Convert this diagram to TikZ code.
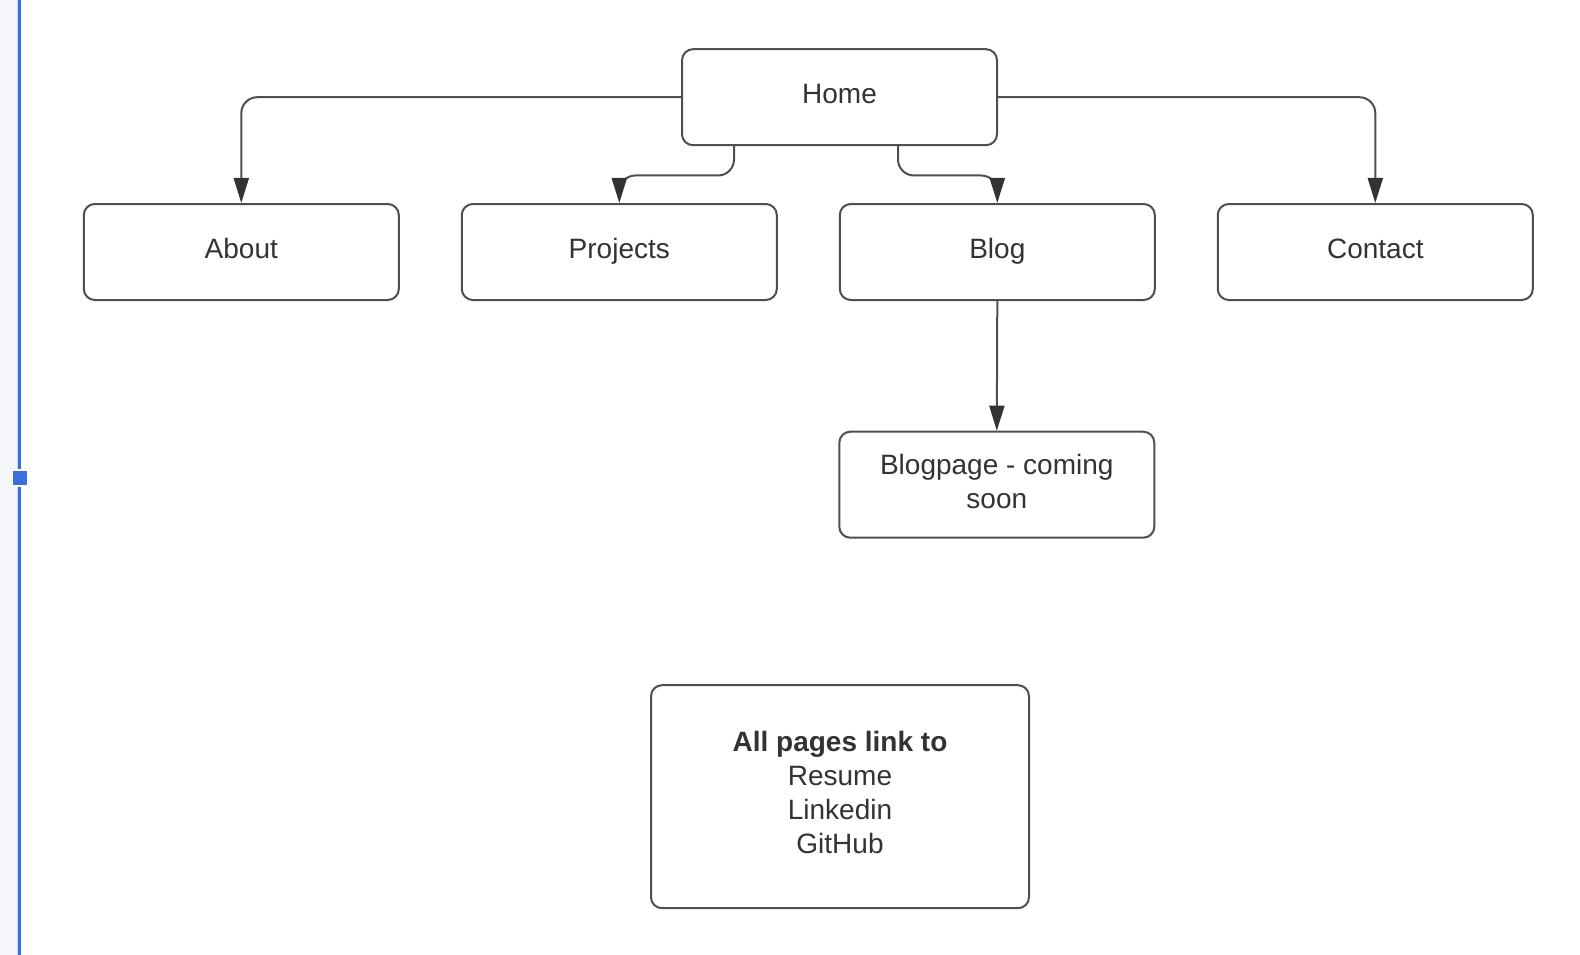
\documentclass[tikz,border=0pt]{standalone}
\usepackage{fontspec}
\setmainfont{Liberation Sans}
\usetikzlibrary{arrows.meta}
\definecolor{linecol}{HTML}{4F4F4F}
\definecolor{tipcol}{HTML}{333333}
\definecolor{textcol}{HTML}{333333}
\definecolor{leftgray}{HTML}{F5F7FA}
\definecolor{blueline}{HTML}{3A70DE}
\definecolor{bluehalo}{HTML}{C3D3F3}
\tikzset{
  pagebox/.style={draw=linecol, line width=2pt, rounded corners=11pt, minimum width=315pt, minimum height=96pt, inner sep=0pt, font=\fontsize{28}{34}\selectfont, text=textcol},
  oneline/.style={text height=20pt, text depth=8pt},
  conn/.style={draw=linecol, line width=2pt, rounded corners=16pt, -{Triangle[length=25pt,width=15pt,color=tipcol]}}
}
\begin{document}
\begin{tikzpicture}[x=1pt,y=-1pt]
\useasboundingbox (0,0) rectangle (1580,955);
\fill[white] (0,0) rectangle (1580,955);
\fill[leftgray] (0,0) rectangle (16.5,955);
\fill[bluehalo] (16.5,0) rectangle (18,955);
\fill[blueline] (18,0) rectangle (21,955);
\fill[white] (11.5,469.2) rectangle (28.5,486.5);
\fill[blueline] (13,470.7) rectangle (27,485);

\node[pagebox, oneline] (home) at (839.5,97.2) {Home};
\node[pagebox, oneline] (about) at (241.3,252) {About};
\node[pagebox, oneline] (projects) at (619.3,252) {Projects};
\node[pagebox, oneline] (blog) at (997.3,252) {Blog};
\node[pagebox, oneline] (contact) at (1375.3,252) {Contact};
\node[pagebox, align=center, minimum height=106pt] (blogpage) at (996.8,484.7) {Blogpage - coming\\soon\rule[-7pt]{0pt}{7pt}};
\node[pagebox, align=center, minimum width=378pt, minimum height=223pt] (allpages) at (840,796.7) {\textbf{All pages link to}\\Resume\\Linkedin\\GitHub\rule[-8pt]{0pt}{8pt}};

\draw[conn] (home.west) -| (about.north);
\draw[conn] (home.east) -| (contact.north);
\draw[conn] ([xshift=-105.5pt]home.south) -- ++(0,29.3) -| (projects.north);
\draw[conn] ([xshift=58.5pt]home.south) -- ++(0,29.3) -| (blog.north);
\draw[conn] (blog.south) -- (blogpage.north);
\end{tikzpicture}
\end{document}
